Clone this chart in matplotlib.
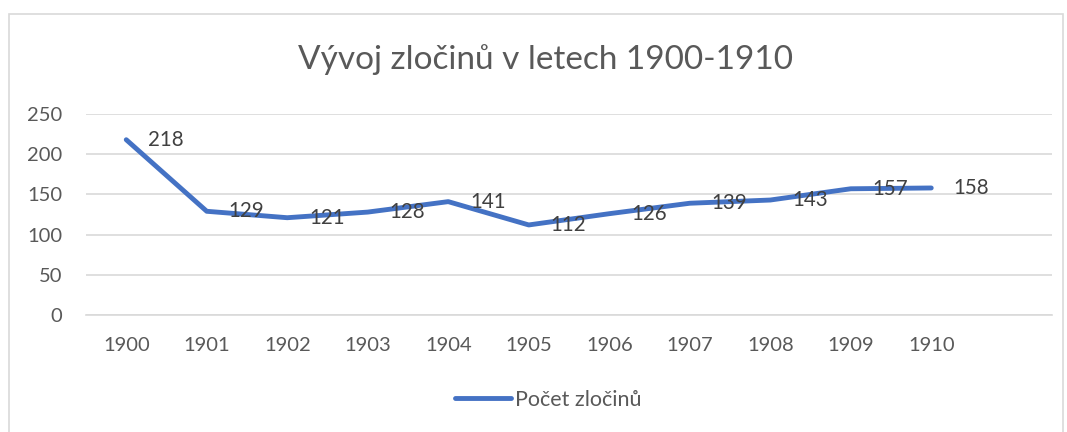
import matplotlib as mpl
from matplotlib import pyplot as plt
from matplotlib.patches import Rectangle

plt.rcParams['font.family'] = ['Lato', 'DejaVu Sans']

years = ['1900', '1901', '1902', '1903', '1904', '1905',
         '1906', '1907', '1908', '1909', '1910']
crimes = [218, 129, 121, 128, 141, 112, 126, 139, 143, 157, 158]
y_ticks = [0, 50, 100, 150, 200, 250]
title = 'Vývoj zločinů v letech 1900-1910'
series_name = 'Počet zločinů'

line_colour = '#4472C4'
grid_colour = '#D9D9D9'
tick_colour = '#595959'
label_colour = '#404040'

fig = plt.figure(figsize=(10.67, 4.32), dpi=100)
ax = fig.add_axes([86 / 1067, 1 - 315 / 432, 966 / 1067, 201 / 432])

# chart border like the spreadsheet frame
fig.patches.append(Rectangle((9 / 1067, -0.05), 1054 / 1067, 1.05 - 14 / 432,
                             transform=fig.transFigure, fill=False,
                             edgecolor=grid_colour, linewidth=1.2))

x = list(range(len(years)))
line, = ax.plot(x, crimes, color=line_colour, linewidth=3.5,
                solid_capstyle='round', solid_joinstyle='round',
                label=series_name, zorder=3)

for xi, val in zip(x, crimes):
    ax.annotate(str(val), (xi, val), xytext=(22, 0), textcoords='offset pixels',
                ha='left', va='center', fontsize=14.8, color=label_colour, zorder=4)

ax.set_xlim(-0.5, len(years) + 0.5)
ax.set_ylim(0, 250)
ax.set_yticks(y_ticks)
ax.set_xticks(x)
ax.set_xticklabels(years)
ax.grid(axis='y', color=grid_colour, linewidth=1.2)
ax.set_axisbelow(True)
for side in ['left', 'right', 'top']:
    ax.spines[side].set_visible(False)
ax.spines['bottom'].set_color(grid_colour)
ax.spines['bottom'].set_linewidth(1.2)
ax.tick_params(axis='both', length=0, labelsize=14.5, labelcolor=tick_colour)
ax.tick_params(axis='y', pad=17)
ax.tick_params(axis='x', pad=16)

fig.text(546 / 1067, 1 - 60 / 432, title, ha='center', va='center',
         fontsize=24, color=tick_colour)

fig.legend(handles=[line], loc='center', bbox_to_anchor=(548 / 1067, 1 - 400 / 432),
           frameon=False, fontsize=15.5, labelcolor=tick_colour,
           handlelength=2.6, handletextpad=0.2)

fig.savefig('out.png', dpi=100)
